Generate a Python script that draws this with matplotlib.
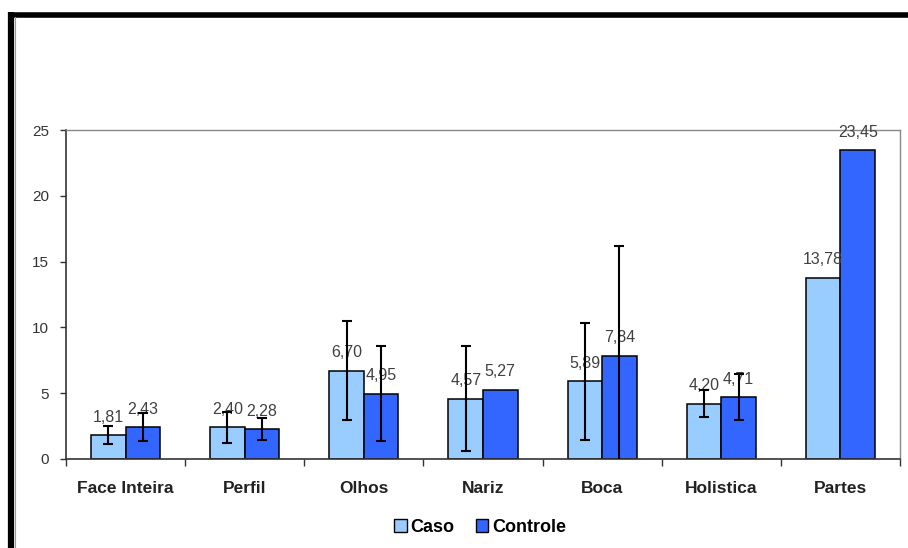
import matplotlib.pyplot as plt
import numpy as np
from matplotlib.lines import Line2D
from matplotlib.patches import Patch

CASO_BLUE = "#99ccff"
CONTROLE_BLUE = "#3366ff"
LABEL_GREY = "#404040"

categories = ["Face Inteira", "Perfil", "Olhos", "Nariz", "Boca", "Holistica", "Partes"]
caso = [1.81, 2.40, 6.70, 4.57, 5.89, 4.20, 13.78]
controle = [2.43, 2.28, 4.95, 5.27, 7.84, 4.71, 23.45]
caso_err = [0.70, 1.15, 3.75, 3.98, 4.42, 1.02, 0]
controle_err = [1.03, 0.83, 3.62, 0, 8.35, 1.74, 0]
yticks = [0, 5, 10, 15, 20, 25]

plt.rcParams["font.family"] = ["Liberation Sans", "DejaVu Sans"]

fig = plt.figure(figsize=(9.08, 5.48), dpi=100)
ax = fig.add_axes([66 / 908, 89 / 548, 834 / 908, 329 / 548])

x = np.arange(len(categories))
w = 0.29

bars1 = ax.bar(x - w / 2, caso, w, color=CASO_BLUE, edgecolor="black", linewidth=1.1, zorder=2)
bars2 = ax.bar(x + w / 2, controle, w, color=CONTROLE_BLUE, edgecolor="black", linewidth=1.1, zorder=2)

# value labels sit under the error bars
for bars, vals in ((bars1, caso), (bars2, controle)):
    for b, v in zip(bars, vals):
        ax.annotate(f"{v:.2f}".replace(".", ","), (b.get_x() + b.get_width() / 2, v),
                    xytext=(0, 7.5), textcoords="offset points", ha="center", va="bottom",
                    fontsize=11.5, color=LABEL_GREY, zorder=3)

for off, vals, errs in ((-w / 2, caso, caso_err), (w / 2, controle, controle_err)):
    xs = [xi + off for xi, e in zip(x, errs) if e > 0]
    ys = [v for v, e in zip(vals, errs) if e > 0]
    es = [e for e in errs if e > 0]
    ax.errorbar(xs, ys, yerr=es, fmt="none", ecolor="black", elinewidth=1.5,
                capsize=3.5, capthick=1.5, zorder=4)

ax.set_xlim(-0.5, len(categories) - 0.5)
ax.set_ylim(0, 25)
ax.set_yticks(yticks)
ax.tick_params(axis="y", direction="out", length=4, width=1, colors="#333333",
               labelsize=11, labelcolor="#333333", pad=8)

ax.set_xticks(np.arange(len(categories) + 1) - 0.5)
ax.set_xticklabels([])
ax.tick_params(axis="x", which="major", direction="out", length=5, width=1, colors="#333333")
ax.set_xticks(x, minor=True)
ax.set_xticklabels(categories, minor=True, fontsize=12.5, fontweight="bold", color="#222222")
ax.tick_params(axis="x", which="minor", length=0, pad=16)

for side in ("top", "right"):
    ax.spines[side].set_color("#888888")
    ax.spines[side].set_linewidth(1)
for side in ("left", "bottom"):
    ax.spines[side].set_color("#333333")
    ax.spines[side].set_linewidth(1.2)

handles = [Patch(facecolor=CASO_BLUE, edgecolor="black", linewidth=1),
           Patch(facecolor=CONTROLE_BLUE, edgecolor="black", linewidth=1)]
fig.legend(handles, ["Caso", "Controle"], loc="center", bbox_to_anchor=(480 / 908, 1 - 527 / 548),
           ncol=2, frameon=False, handlelength=0.7, handleheight=0.7, handletextpad=0.2,
           columnspacing=1.2, prop={"weight": "bold", "size": 13})

# thick black frame on the top and left of the picture
fig.add_artist(Line2D([8 / 908, 1], [1 - 14.5 / 548] * 2, color="black", linewidth=4, solid_capstyle="butt"))
fig.add_artist(Line2D([10.5 / 908] * 2, [0, 1 - 12 / 548], color="black", linewidth=4.5, solid_capstyle="butt"))
fig.add_artist(Line2D([14.5 / 908] * 2, [0, 1 - 17 / 548], color="#999999", linewidth=0.8))

fig.savefig("out.png", dpi=100)
